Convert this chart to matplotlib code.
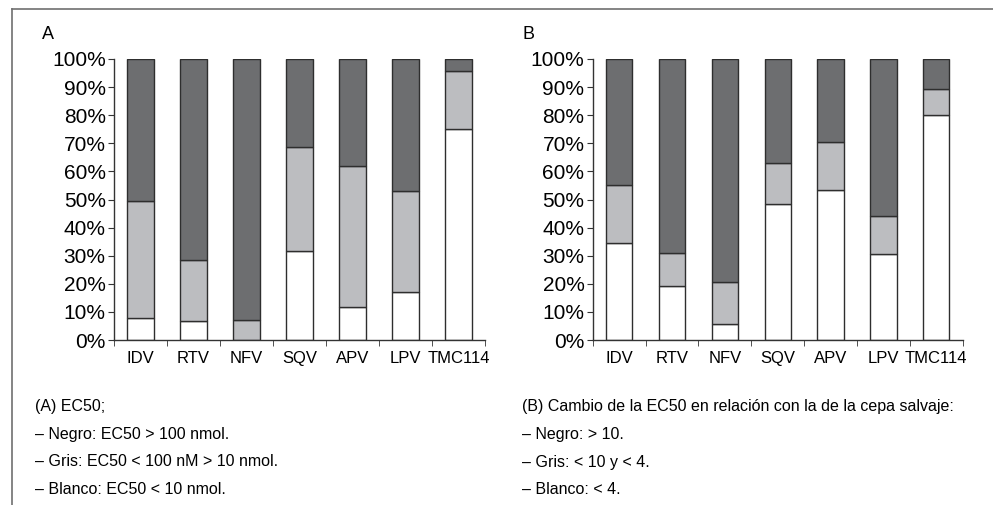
import matplotlib

matplotlib.use("Agg")
import matplotlib.pyplot as plt
from matplotlib.lines import Line2D
import numpy as np

plt.rcParams["font.family"] = ["Liberation Sans", "DejaVu Sans"]

DRUGS = ["IDV", "RTV", "NFV", "SQV", "APV", "LPV", "TMC114"]

# percentages per bar: white (bottom), grey (middle); black = rest up to 100
A_WHITE = [8.0, 6.7, 0.0, 31.5, 11.6, 17.1, 75.0]
A_GREY = [41.5, 21.8, 7.0, 37.1, 50.3, 36.1, 20.6]
B_WHITE = [34.6, 19.2, 5.7, 48.3, 53.3, 30.7, 79.9]
B_GREY = [20.5, 11.8, 14.9, 14.7, 17.1, 13.5, 9.4]

NOTES_A = ["(A) EC50;",
           "\u2013 Negro: EC50 > 100 nmol.",
           "\u2013 Gris: EC50 < 100 nM > 10 nmol.",
           "\u2013 Blanco: EC50 < 10 nmol."]
NOTES_B = ["(B) Cambio de la EC50 en relación con la de la cepa salvaje:",
           "\u2013 Negro: > 10.",
           "\u2013 Gris: < 10 y < 4.",
           "\u2013 Blanco: < 4."]

DARK = "#6d6e70"
LIGHT = "#bcbdc0"
EDGE = "#2e2e2e"


def stacked(ax, white, grey):
    x = np.arange(len(DRUGS))
    white = np.asarray(white)
    grey = np.asarray(grey)
    black = 100 - white - grey
    kw = dict(width=0.5, edgecolor=EDGE, linewidth=1.0)
    ax.bar(x, white, color="white", **kw)
    ax.bar(x, grey, bottom=white, color=LIGHT, **kw)
    ax.bar(x, black, bottom=white + grey, color=DARK, **kw)
    ax.set_xlim(-0.5, 6.5)
    ax.set_ylim(0, 100)
    ax.set_yticks(np.arange(0, 101, 10))
    ax.set_yticklabels([f"{v}%" for v in range(0, 101, 10)], fontsize=15)
    ax.set_xticks(x)
    ax.set_xticklabels(DRUGS, fontsize=12)
    ax.set_xticks(np.arange(-0.5, 7, 1), minor=True)
    ax.tick_params(axis="x", which="major", length=0, pad=8)
    ax.tick_params(axis="x", which="minor", length=4, direction="out", color="#333333")
    ax.tick_params(axis="y", length=4, direction="out", color="#333333", pad=2)
    for s in ("top", "right"):
        ax.spines[s].set_visible(False)
    for s in ("left", "bottom"):
        ax.spines[s].set_color("#333333")
        ax.spines[s].set_linewidth(1.0)


fig = plt.figure(figsize=(9.93, 5.05), dpi=100)

ax_a = fig.add_axes([0.1148, 0.3267, 0.3736, 0.5565])
stacked(ax_a, A_WHITE, A_GREY)
ax_b = fig.add_axes([0.5969, 0.3267, 0.3726, 0.5565])
stacked(ax_b, B_WHITE, B_GREY)

fig.text(42 / 993, 1 - 34 / 505, "A", fontsize=13, va="center", ha="left")
fig.text(522 / 993, 1 - 34 / 505, "B", fontsize=13, va="center", ha="left")

# frame: top and left rules
fig.add_artist(Line2D([12 / 993, 1.0], [1 - 9 / 505] * 2, color="#707070", lw=1.2))
fig.add_artist(Line2D([12 / 993] * 2, [0.0, 1 - 9 / 505], color="#707070", lw=1.2))

for i, (ta, tb) in enumerate(zip(NOTES_A, NOTES_B)):
    y = 1 - (406 + 28 * i) / 505
    fig.text(35 / 993, y, ta, fontsize=11.5, va="center", ha="left")
    fig.text(522 / 993, y, tb, fontsize=11.5, va="center", ha="left")

fig.savefig("out.png", dpi=100)
